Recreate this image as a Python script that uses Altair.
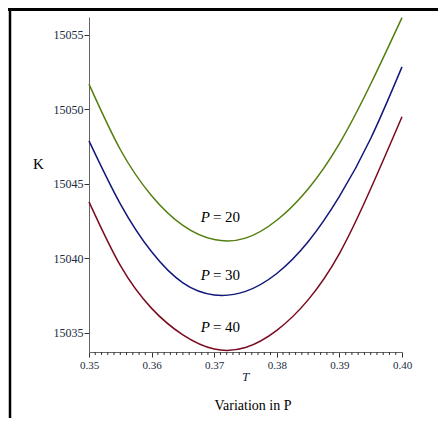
import altair as alt
import pandas as pd

# ---- data ----
T_values = [0.35, 0.355, 0.36, 0.365, 0.37, 0.375, 0.38, 0.385, 0.39, 0.395, 0.40]
K_P20 = [15051.69, 15047.30, 15044.20, 15042.20, 15041.25, 15041.35, 15042.55, 15044.65, 15047.70, 15051.70, 15056.16]
K_P30 = [15047.88, 15043.65, 15040.43, 15038.34, 15037.53, 15037.77, 15038.97, 15041.10, 15044.15, 15048.04, 15052.85]
K_P40 = [15043.78, 15039.51, 15036.63, 15034.85, 15033.90, 15034.00, 15035.15, 15037.20, 15040.31, 15044.66, 15049.50]
series = ["P = 20", "P = 30", "P = 40"]
colors = ["#527f10", "#10187a", "#7a0a1e"]

label_T = [0.36955, 0.36955, 0.36955]
label_K = [15042.79, 15038.87, 15035.40]
label_rest = ["= 20", "= 30", "= 40"]

y_ticks = [15035, 15040, 15045, 15050, 15055]
x_major = [0.35, 0.36, 0.37, 0.38, 0.39, 0.40]
x_labels = ["0.35", "0.36", "0.37", "0.38", "0.39", "0.40"]
x_minor = [round(0.35 + i * 0.001, 3) for i in range(51) if i % 10 != 0]

rows = []
for name, ks in zip(series, [K_P20, K_P30, K_P40]):
    for t, k in zip(T_values, ks):
        rows.append({"T": t, "K": k, "series": name})
df = pd.DataFrame(rows)
df_lab = pd.DataFrame({"T": label_T, "K": label_K, "rest": label_rest})
df_minor = pd.DataFrame({"T": x_minor})

W, H = 313, 335
PAD = {"left": 81, "top": 9, "right": 36, "bottom": 66}
FONT = "Liberation Serif"
TXT = "#202a40"

label_map = "{" + ", ".join(f"'{v:.2f}': '{l}'" for v, l in zip(x_major, x_labels)) + "}"

x_scale = alt.Scale(domain=[0.35, 0.40], nice=False, zero=False)
y_scale = alt.Scale(domain=[15033.7, 15056.2], nice=False, zero=False)

x_enc = alt.X(
    "T:Q",
    scale=x_scale,
    axis=alt.Axis(
        values=x_major,
        labelExpr=f"{label_map}[format(datum.value, '.2f')]",
        labelOverlap=False,
        labelFlush=False,
        tickSize=5,
        tickColor="#333333",
        domainColor="#666666",
        labelFont=FONT,
        labelFontSize=11,
        labelColor=TXT,
        labelPadding=2,
        grid=False,
        title="T",
        titleFont=FONT,
        titleFontSize=13,
        titleFontStyle="italic",
        titleFontWeight="normal",
        titleColor=TXT,
        titleX=156,
        titleY=24,
        titleAlign="center",
        titleBaseline="middle",
    ),
)
y_enc = alt.Y(
    "K:Q",
    scale=y_scale,
    axis=alt.Axis(
        values=y_ticks,
        format="d",
        tickSize=5,
        tickColor="#333333",
        domainColor="#666666",
        labelFont=FONT,
        labelFontSize=12,
        labelColor=TXT,
        labelPadding=1,
        grid=False,
        title="K",
        titleFont=FONT,
        titleFontSize=15,
        titleFontWeight="normal",
        titleColor="#000000",
        titleAngle=0,
        titleX=-51,
        titleY=146,
        titleAlign="center",
        titleBaseline="middle",
    ),
)

lines = alt.Chart(df).mark_line(interpolate="natural", strokeWidth=1.5).encode(
    x=x_enc,
    y=y_enc,
    color=alt.Color("series:N", scale=alt.Scale(domain=series, range=colors), legend=None),
    detail="series:N",
)

minor_ticks = alt.Chart(df_minor).mark_rule(color="#333333", strokeWidth=1).encode(
    x=alt.X("T:Q", scale=x_scale),
    y=alt.value(H),
    y2=alt.value(H + 3),
)

lab_p = alt.Chart(df_lab).mark_text(
    text="P", font=FONT, fontSize=15, fontStyle="italic", align="right", baseline="middle", dx=-1.5, color="#000000"
).encode(x="T:Q", y="K:Q")

lab_rest = alt.Chart(df_lab).mark_text(
    font=FONT, fontSize=15, align="left", baseline="middle", dx=1.5, color="#000000"
).encode(x="T:Q", y="K:Q", text="rest:N")

caption = alt.Chart(pd.DataFrame({"c": ["Variation in P"]})).mark_text(
    font=FONT, fontSize=14, align="center", baseline="middle", color="#000000"
).encode(x=alt.value(164), y=alt.value(389), text="c:N")

top_border = alt.Chart(pd.DataFrame({"a": [0]})).mark_rule(color="#000000", strokeWidth=3).encode(
    x=alt.value(-PAD["left"]), x2=alt.value(W + PAD["right"]), y=alt.value(-7.5)
)
left_border = alt.Chart(pd.DataFrame({"a": [0]})).mark_rule(color="#000000", strokeWidth=2.5).encode(
    x=alt.value(-79), y=alt.value(-9), y2=alt.value(H + PAD["bottom"])
)

chart = alt.layer(lines, minor_ticks, lab_p, lab_rest, caption, top_border, left_border).properties(
    width=W,
    height=H,
    autosize=alt.AutoSizeParams(type="none"),
    padding=PAD,
    background="#ffffff",
).configure_view(stroke=None)

chart.save("out.html", embed_options={"renderer": "svg", "actions": False})
